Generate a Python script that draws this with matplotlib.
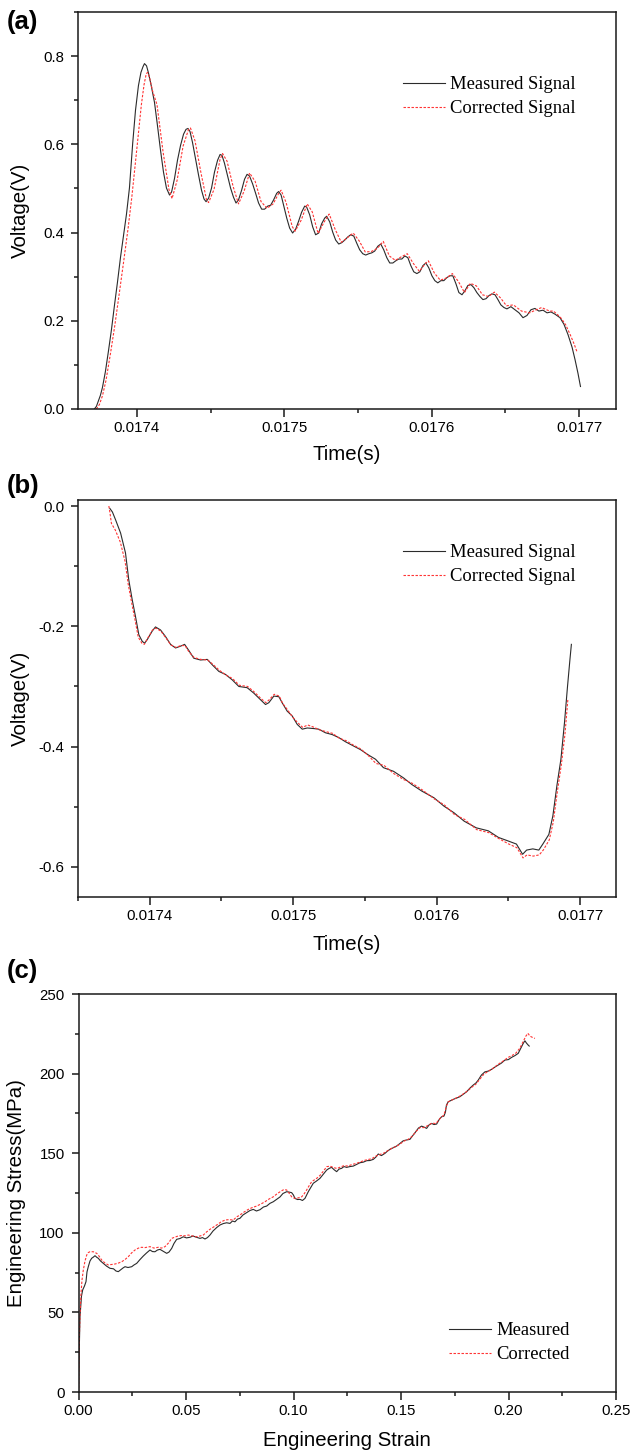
import matplotlib
matplotlib.use("Agg")
import matplotlib.pyplot as plt
from matplotlib.ticker import MultipleLocator, FormatStrFormatter

# ---------------- Panel (a): voltage vs time ----------------
a_meas_t = [0.0173711, 0.0173725, 0.0173738, 0.0173752, 0.0173766, 0.0173786, 0.0173806, 0.0173827,
            0.0173847, 0.0173868, 0.0173888, 0.0173908, 0.0173929, 0.0173949, 0.0173971, 0.0173990,
            0.0174010, 0.0174027, 0.0174041, 0.0174051, 0.0174065, 0.0174078, 0.0174098, 0.0174119,
            0.0174139, 0.0174160, 0.0174180, 0.0174200, 0.0174221, 0.0174235, 0.0174255, 0.0174275,
            0.0174296, 0.0174316, 0.0174333, 0.0174346, 0.0174360, 0.0174377, 0.0174397, 0.0174418,
            0.0174438, 0.0174455, 0.0174469, 0.0174486, 0.0174506, 0.0174526, 0.0174547, 0.0174564,
            0.0174577, 0.0174594, 0.0174615, 0.0174635, 0.0174655, 0.0174672, 0.0174689, 0.0174710,
            0.0174730, 0.0174747, 0.0174764, 0.0174785, 0.0174805, 0.0174825, 0.0174846, 0.0174866,
            0.0174887, 0.0174907, 0.0174927, 0.0174948, 0.0174961, 0.0174978, 0.0174995, 0.0175016,
            0.0175036, 0.0175056, 0.0175077, 0.0175097, 0.0175117, 0.0175138, 0.0175151, 0.0175172,
            0.0175192, 0.0175212, 0.0175233, 0.0175253, 0.0175274, 0.0175287, 0.0175308, 0.0175328,
            0.0175348, 0.0175369, 0.0175389, 0.0175410, 0.0175430, 0.0175450, 0.0175471, 0.0175491,
            0.0175511, 0.0175532, 0.0175552, 0.0175573, 0.0175593, 0.0175613, 0.0175634, 0.0175654,
            0.0175674, 0.0175695, 0.0175715, 0.0175736, 0.0175756, 0.0175776, 0.0175797, 0.0175817,
            0.0175838, 0.0175858, 0.0175878, 0.0175899, 0.0175919, 0.0175940, 0.0175960, 0.0175980,
            0.0176001, 0.0176021, 0.0176041, 0.0176062, 0.0176082, 0.0176103, 0.0176123, 0.0176143,
            0.0176164, 0.0176184, 0.0176205, 0.0176225, 0.0176245, 0.0176266, 0.0176286, 0.0176306,
            0.0176327, 0.0176347, 0.0176368, 0.0176388, 0.0176408, 0.0176429, 0.0176449, 0.0176469,
            0.0176490, 0.0176510, 0.0176537, 0.0176564, 0.0176592, 0.0176619, 0.0176646, 0.0176673,
            0.0176700, 0.0176727, 0.0176755, 0.0176782, 0.0176809, 0.0176836, 0.0176870, 0.0176897,
            0.0176924, 0.0176952, 0.0176972, 0.0176992, 0.0177009]
a_meas_v = [0.000, 0.006, 0.018, 0.031, 0.049, 0.085, 0.130, 0.180,
            0.234, 0.288, 0.343, 0.392, 0.442, 0.501, 0.602, 0.677,
            0.733, 0.763, 0.776, 0.783, 0.778, 0.762, 0.731, 0.695,
            0.643, 0.586, 0.537, 0.501, 0.485, 0.492, 0.523, 0.564,
            0.598, 0.623, 0.634, 0.636, 0.629, 0.604, 0.568, 0.530,
            0.496, 0.476, 0.470, 0.478, 0.501, 0.537, 0.564, 0.577,
            0.575, 0.557, 0.528, 0.501, 0.480, 0.467, 0.474, 0.496,
            0.521, 0.532, 0.528, 0.510, 0.489, 0.467, 0.453, 0.453,
            0.460, 0.462, 0.474, 0.489, 0.493, 0.485, 0.462, 0.433,
            0.410, 0.399, 0.408, 0.426, 0.446, 0.460, 0.458, 0.440,
            0.413, 0.395, 0.399, 0.420, 0.433, 0.437, 0.424, 0.401,
            0.383, 0.374, 0.377, 0.383, 0.390, 0.395, 0.392, 0.376,
            0.361, 0.352, 0.349, 0.352, 0.354, 0.358, 0.369, 0.374,
            0.361, 0.343, 0.331, 0.331, 0.336, 0.340, 0.340, 0.347,
            0.343, 0.325, 0.311, 0.307, 0.311, 0.325, 0.331, 0.320,
            0.302, 0.291, 0.286, 0.291, 0.291, 0.298, 0.302, 0.302,
            0.284, 0.264, 0.259, 0.268, 0.280, 0.282, 0.275, 0.264,
            0.255, 0.248, 0.250, 0.257, 0.261, 0.259, 0.248, 0.236,
            0.230, 0.227, 0.232, 0.225, 0.218, 0.207, 0.212, 0.225,
            0.228, 0.222, 0.224, 0.218, 0.220, 0.215, 0.207, 0.192,
            0.169, 0.140, 0.112, 0.081, 0.051]

a_corr_t = [0.0173724, 0.0173745, 0.0173766, 0.0173790, 0.0173820, 0.0173850, 0.0173880, 0.0173910,
            0.0173940, 0.0173965, 0.0173990, 0.0174010, 0.0174030, 0.0174048, 0.0174063, 0.0174072,
            0.0174085, 0.0174105, 0.0174136, 0.0174177, 0.0174217, 0.0174238, 0.0174272, 0.0174313,
            0.0174350, 0.0174363, 0.0174394, 0.0174435, 0.0174472, 0.0174486, 0.0174523, 0.0174564,
            0.0174581, 0.0174611, 0.0174652, 0.0174689, 0.0174727, 0.0174764, 0.0174802, 0.0174842,
            0.0174883, 0.0174924, 0.0174965, 0.0174978, 0.0175012, 0.0175053, 0.0175073, 0.0175114,
            0.0175155, 0.0175189, 0.0175229, 0.0175270, 0.0175304, 0.0175345, 0.0175386, 0.0175427,
            0.0175467, 0.0175508, 0.0175549, 0.0175590, 0.0175630, 0.0175671, 0.0175712, 0.0175753,
            0.0175793, 0.0175834, 0.0175875, 0.0175916, 0.0175957, 0.0175977, 0.0176018, 0.0176058,
            0.0176099, 0.0176140, 0.0176181, 0.0176222, 0.0176262, 0.0176303, 0.0176344, 0.0176385,
            0.0176425, 0.0176466, 0.0176507, 0.0176554, 0.0176609, 0.0176663, 0.0176717, 0.0176745,
            0.0176772, 0.0176800, 0.0176826, 0.0176853, 0.0176880, 0.0176910, 0.0176940, 0.0176965,
            0.0176985]
a_corr_v = [0.000, 0.010, 0.030, 0.065, 0.125, 0.190, 0.262, 0.335,
            0.410, 0.480, 0.560, 0.625, 0.690, 0.735, 0.760, 0.763,
            0.752, 0.722, 0.690, 0.583, 0.498, 0.477, 0.518, 0.596,
            0.634, 0.637, 0.608, 0.534, 0.474, 0.468, 0.498, 0.566,
            0.579, 0.562, 0.505, 0.465, 0.494, 0.535, 0.516, 0.470,
            0.455, 0.465, 0.491, 0.496, 0.468, 0.414, 0.403, 0.428,
            0.465, 0.447, 0.398, 0.424, 0.442, 0.407, 0.378, 0.388,
            0.399, 0.381, 0.356, 0.357, 0.364, 0.380, 0.347, 0.337,
            0.345, 0.352, 0.330, 0.312, 0.330, 0.336, 0.308, 0.292,
            0.297, 0.307, 0.289, 0.264, 0.285, 0.279, 0.259, 0.255,
            0.265, 0.252, 0.234, 0.236, 0.222, 0.218, 0.226, 0.230,
            0.226, 0.222, 0.222, 0.214, 0.205, 0.190, 0.168, 0.148,
            0.130]

# ---------------- Panel (b): voltage vs time ----------------
b_meas_t = [0.0173722, 0.0173740, 0.0173762, 0.0173797, 0.0173831, 0.0173854, 0.0173878, 0.0173901,
            0.0173924, 0.0173948, 0.0173964, 0.0173983, 0.0174017, 0.0174040, 0.0174075, 0.0174110,
            0.0174145, 0.0174180, 0.0174215, 0.0174243, 0.0174272, 0.0174307, 0.0174354, 0.0174401,
            0.0174436, 0.0174482, 0.0174528, 0.0174575, 0.0174621, 0.0174679, 0.0174725, 0.0174772,
            0.0174807, 0.0174830, 0.0174865, 0.0174900, 0.0174923, 0.0174958, 0.0174993, 0.0175028,
            0.0175063, 0.0175098, 0.0175144, 0.0175178, 0.0175225, 0.0175272, 0.0175318, 0.0175365,
            0.0175413, 0.0175469, 0.0175525, 0.0175574, 0.0175629, 0.0175699, 0.0175769, 0.0175827,
            0.0175897, 0.0175981, 0.0176051, 0.0176121, 0.0176192, 0.0176276, 0.0176360, 0.0176431,
            0.0176500, 0.0176556, 0.0176599, 0.0176627, 0.0176670, 0.0176712, 0.0176740, 0.0176782,
            0.0176810, 0.0176838, 0.0176866, 0.0176891, 0.0176912, 0.0176929, 0.0176939]
b_meas_v = [-0.004, -0.010, -0.023, -0.045, -0.078, -0.123, -0.156, -0.184,
            -0.214, -0.225, -0.228, -0.222, -0.208, -0.201, -0.206, -0.217,
            -0.230, -0.236, -0.233, -0.230, -0.240, -0.253, -0.256, -0.255,
            -0.264, -0.275, -0.280, -0.289, -0.300, -0.302, -0.311, -0.322,
            -0.330, -0.327, -0.316, -0.317, -0.327, -0.341, -0.349, -0.363,
            -0.371, -0.369, -0.370, -0.371, -0.377, -0.380, -0.385, -0.392,
            -0.398, -0.405, -0.414, -0.421, -0.435, -0.441, -0.452, -0.463,
            -0.474, -0.485, -0.499, -0.510, -0.524, -0.535, -0.540, -0.551,
            -0.557, -0.562, -0.579, -0.572, -0.570, -0.572, -0.562, -0.546,
            -0.515, -0.465, -0.421, -0.360, -0.300, -0.255, -0.230]

b_corr_t = [0.0173715, 0.0173722, 0.0173733, 0.0173760, 0.0173795, 0.0173828, 0.0173850, 0.0173875,
            0.0173898, 0.0173920, 0.0173945, 0.0173962, 0.0173985, 0.0174020, 0.0174042, 0.0174078,
            0.0174112, 0.0174148, 0.0174182, 0.0174218, 0.0174246, 0.0174275, 0.0174310, 0.0174357,
            0.0174404, 0.0174439, 0.0174485, 0.0174531, 0.0174578, 0.0174624, 0.0174682, 0.0174728,
            0.0174775, 0.0174810, 0.0174833, 0.0174868, 0.0174903, 0.0174926, 0.0174961, 0.0174996,
            0.0175031, 0.0175066, 0.0175101, 0.0175147, 0.0175181, 0.0175228, 0.0175275, 0.0175321,
            0.0175368, 0.0175416, 0.0175472, 0.0175528, 0.0175577, 0.0175632, 0.0175702, 0.0175772,
            0.0175830, 0.0175900, 0.0175984, 0.0176054, 0.0176124, 0.0176195, 0.0176279, 0.0176363,
            0.0176434, 0.0176503, 0.0176559, 0.0176602, 0.0176630, 0.0176673, 0.0176715, 0.0176743,
            0.0176785, 0.0176813, 0.0176841, 0.0176869, 0.0176894, 0.0176915]
b_corr_v = [0.000, -0.010, -0.029, -0.040, -0.060, -0.092, -0.130, -0.162,
            -0.190, -0.218, -0.228, -0.230, -0.220, -0.206, -0.203, -0.208,
            -0.219, -0.231, -0.235, -0.232, -0.232, -0.243, -0.252, -0.255,
            -0.256, -0.263, -0.273, -0.281, -0.287, -0.298, -0.300, -0.309,
            -0.320, -0.327, -0.322, -0.313, -0.316, -0.328, -0.339, -0.351,
            -0.360, -0.368, -0.364, -0.368, -0.372, -0.375, -0.378, -0.386,
            -0.390, -0.397, -0.404, -0.416, -0.428, -0.431, -0.445, -0.455,
            -0.461, -0.472, -0.487, -0.497, -0.513, -0.521, -0.538, -0.543,
            -0.553, -0.562, -0.568, -0.585, -0.580, -0.582, -0.580, -0.572,
            -0.555, -0.525, -0.475, -0.430, -0.380, -0.320]

# ---------------- Panel (c): stress vs strain ----------------
c_meas_e = [0.0000, 0.0002, 0.00065, 0.00135, 0.0019, 0.00274, 0.00344, 0.0039, 0.00451, 0.0053,
            0.00609, 0.00693, 0.00763, 0.00856, 0.00916, 0.01019, 0.01149, 0.01298, 0.01460, 0.01623,
            0.01740, 0.01847, 0.01972, 0.02065, 0.02158, 0.02298, 0.0247, 0.02577, 0.02702, 0.02856,
            0.03009, 0.03158, 0.03321, 0.03437, 0.03553, 0.0367, 0.03786, 0.03926, 0.04098, 0.04205,
            0.0433, 0.04437, 0.04563, 0.04716, 0.0487, 0.05019, 0.05181, 0.05321, 0.05414, 0.0553,
            0.05647, 0.05763, 0.05879, 0.05995, 0.06112, 0.06251, 0.06423, 0.06577, 0.0673, 0.06888,
            0.07042, 0.07158, 0.07274, 0.07391, 0.07507, 0.07647, 0.07819, 0.07972, 0.08126, 0.08274,
            0.08437, 0.086, 0.08749, 0.08902, 0.09056, 0.09205, 0.09367, 0.09507, 0.09679, 0.09786,
            0.09912, 0.09995, 0.10065, 0.10181, 0.10298, 0.10414, 0.1053, 0.10684, 0.10786, 0.10916,
            0.11065, 0.11228, 0.11391, 0.1154, 0.11647, 0.11772, 0.11879, 0.12005, 0.12112, 0.12237,
            0.12344, 0.1247, 0.12623, 0.12777, 0.12926, 0.13088, 0.13251, 0.134, 0.13553, 0.13707,
            0.13833, 0.1394, 0.14088, 0.14251, 0.14367, 0.14484, 0.14647, 0.14795, 0.14949, 0.15102,
            0.15251, 0.15414, 0.1553, 0.15647, 0.1581, 0.15958, 0.16065, 0.16191, 0.16298, 0.16423,
            0.1653, 0.16656, 0.16786, 0.16888, 0.16995, 0.17065, 0.17112, 0.17195, 0.17321, 0.17428,
            0.17577, 0.1774, 0.17902, 0.18051, 0.18205, 0.18358, 0.18484, 0.18591, 0.1874, 0.18902,
            0.19065, 0.19214, 0.19367, 0.19521, 0.1967, 0.19833, 0.19995, 0.20144, 0.20298, 0.20451,
            0.2053, 0.20609, 0.20693, 0.20763, 0.20833, 0.20916, 0.20963]
c_meas_s = [0.0, 20.1, 47.3, 60.3, 64.1, 66.6, 69.3, 75.4, 78.7, 82.3,
            84.0, 84.8, 85.6, 84.5, 84.0, 82.3, 80.8, 79.1, 77.7, 77.4,
            76.0, 75.6, 76.9, 77.9, 78.7, 78.2, 78.7, 79.8, 80.8, 83.2,
            85.4, 87.3, 89.2, 88.2, 88.1, 89.2, 89.6, 88.5, 87.1, 87.9,
            90.2, 93.3, 95.9, 96.4, 97.5, 96.8, 97.2, 98.0, 97.5, 97.0,
            96.5, 97.0, 96.1, 97.0, 98.6, 101.1, 103.3, 104.9, 105.8, 106.3,
            105.9, 107.4, 106.9, 108.6, 109.1, 111.2, 112.7, 114.0, 114.7, 113.7,
            114.5, 116.2, 116.8, 118.5, 119.5, 120.9, 122.5, 124.7, 125.8, 125.6,
            125.2, 123.7, 121.6, 120.9, 121.0, 120.3, 121.6, 125.8, 128.1, 131.1,
            132.5, 134.2, 136.9, 139.4, 140.4, 141.1, 139.7, 138.4, 140.0, 140.5,
            141.6, 141.1, 141.6, 141.9, 142.9, 144.0, 144.4, 145.3, 145.4, 146.1,
            147.6, 149.5, 148.5, 149.9, 151.3, 152.4, 153.5, 154.5, 156.1, 157.8,
            158.3, 158.7, 160.8, 162.8, 165.8, 167.0, 166.4, 165.6, 167.7, 168.7,
            168.0, 168.3, 171.4, 172.9, 173.3, 175.8, 180.2, 182.3, 183.1, 183.8,
            184.6, 185.5, 187.1, 188.6, 190.9, 192.8, 194.1, 195.9, 199.1, 201.1,
            201.6, 202.7, 204.1, 205.4, 206.6, 208.5, 208.8, 210.2, 211.3, 212.7,
            214.8, 216.8, 219.2, 220.6, 219.2, 217.9, 217.3]

c_corr_e = [0.0000, 0.0002, 0.00065, 0.00112, 0.00158, 0.00219, 0.00298, 0.00377, 0.00451, 0.0053,
            0.00684, 0.00842, 0.00949, 0.01074, 0.01228, 0.01381, 0.0153, 0.01693, 0.01856, 0.02005,
            0.02158, 0.02312, 0.0246, 0.02623, 0.02786, 0.02935, 0.03088, 0.03321, 0.03507, 0.03707,
            0.03856, 0.04019, 0.04181, 0.0433, 0.04484, 0.04637, 0.04809, 0.04972, 0.05102, 0.05298,
            0.05493, 0.05647, 0.058, 0.05949, 0.06112, 0.06274, 0.06423, 0.06623, 0.06809, 0.06995,
            0.07195, 0.07344, 0.07507, 0.07693, 0.07893, 0.08088, 0.08284, 0.08484, 0.0867, 0.08856,
            0.09056, 0.09251, 0.09447, 0.09553, 0.09679, 0.09786, 0.09912, 0.10019, 0.10144, 0.10251,
            0.10377, 0.10484, 0.10609, 0.10716, 0.10842, 0.10949, 0.11074, 0.11228, 0.11391, 0.1154,
            0.11693, 0.11856, 0.12019, 0.12181, 0.12344, 0.1253, 0.12716, 0.12902, 0.13088, 0.13274,
            0.1346, 0.13647, 0.13833, 0.14019, 0.14205, 0.14391, 0.14577, 0.14763, 0.14949, 0.15135,
            0.15321, 0.15507, 0.15693, 0.1588, 0.16065, 0.16251, 0.16437, 0.16623, 0.1681, 0.16995,
            0.17088, 0.17181, 0.17367, 0.17553, 0.1774, 0.17926, 0.18112, 0.18298, 0.18484, 0.1867,
            0.18856, 0.19042, 0.19228, 0.19414, 0.196, 0.19786, 0.19972, 0.20158, 0.20344, 0.2053,
            0.2067, 0.2081, 0.20902, 0.20995, 0.21088, 0.21228]
c_corr_s = [0.0, 26.4, 48.4, 62.0, 70.3, 76.6, 82.3, 86.0, 87.6, 88.1,
            88.1, 87.1, 85.4, 82.9, 81.0, 79.8, 80.1, 80.4, 81.0, 81.8,
            83.2, 85.0, 87.3, 89.2, 90.4, 90.9, 90.7, 91.3, 90.4, 90.9,
            90.4, 91.3, 93.6, 96.5, 97.3, 98.0, 98.3, 98.1, 98.6, 98.0,
            97.5, 98.0, 98.6, 100.5, 102.2, 103.6, 104.9, 106.8, 108.0, 108.3,
            108.0, 109.9, 111.2, 113.0, 114.7, 115.9, 116.8, 118.1, 119.5, 121.2,
            122.6, 124.7, 126.4, 127.2, 126.9, 125.0, 122.6, 121.8, 121.6, 122.1,
            122.6, 124.3, 126.9, 129.4, 132.1, 133.1, 134.2, 136.0, 138.8, 141.5,
            141.9, 141.0, 140.4, 141.3, 142.2, 141.9, 142.9, 143.5, 144.4, 145.4,
            146.0, 146.6, 148.2, 149.2, 150.1, 151.7, 153.2, 154.2, 155.7, 157.6,
            158.6, 160.5, 163.6, 166.1, 166.1, 167.4, 168.9, 168.6, 171.8, 174.0,
            178.4, 182.1, 183.4, 184.6, 185.9, 187.5, 189.3, 191.5, 193.4, 196.6,
            199.7, 201.3, 202.8, 204.7, 206.6, 208.2, 210.1, 211.3, 212.9, 216.0,
            219.8, 223.6, 225.3, 223.6, 222.9, 222.1]

# ---------------- Text ----------------
panel_labels = ["(a)", "(b)", "(c)"]
xlabels = ["Time(s)", "Time(s)", "Engineering Strain"]
ylabels = ["Voltage(V)", "Voltage(V)", "Engineering Stress(MPa)"]
legend_ab = ["Measured Signal", "Corrected Signal"]
legend_c = ["Measured", "Corrected"]

SANS = "Liberation Sans"
SERIF = "Liberation Serif"
plt.rcParams["font.family"] = SANS

W, H = 630, 1453
fig = plt.figure(figsize=(W / 100, H / 100), dpi=100)

def fx(px):
    return px / W

def fy(py):
    return 1 - py / H

# axes boxes in pixels: left, top, right, bottom
boxes = [(78, 12, 616, 409), (78, 500, 616, 897), (78.6, 994, 616, 1392)]
axes = []
for (l, t, r, b) in boxes:
    ax = fig.add_axes([fx(l), fy(b), (r - l) / W, (b - t) / H])
    axes.append(ax)

meas_kw = dict(color="#2b2b2b", lw=0.8, solid_joinstyle="round")
corr_kw = dict(color="#ff3333", lw=0.8, ls=(0, (2.2, 1.4)))

axA, axB, axC = axes
axA.plot(a_meas_t, a_meas_v, label=legend_ab[0], **meas_kw)
axA.plot(a_corr_t, a_corr_v, label=legend_ab[1], **corr_kw)
axB.plot(b_meas_t, b_meas_v, label=legend_ab[0], **meas_kw)
axB.plot(b_corr_t, b_corr_v, label=legend_ab[1], **corr_kw)
axC.plot(c_meas_e, c_meas_s, label=legend_c[0], **meas_kw)
axC.plot(c_corr_e, c_corr_s, label=legend_c[1], **corr_kw)

axA.set_xlim(0.01736, 0.017725)
axA.set_ylim(0.0, 0.9)
axB.set_xlim(0.01735, 0.017725)
axB.set_ylim(-0.65, 0.01)
axC.set_xlim(0.0, 0.25)
axC.set_ylim(0, 250)

for ax in (axA, axB):
    ax.xaxis.set_major_locator(MultipleLocator(0.0001))
    ax.xaxis.set_minor_locator(MultipleLocator(0.00005))
    ax.xaxis.set_major_formatter(FormatStrFormatter("%.4f"))
    ax.yaxis.set_major_locator(MultipleLocator(0.2))
    ax.yaxis.set_minor_locator(MultipleLocator(0.1))
    ax.yaxis.set_major_formatter(FormatStrFormatter("%.1f"))
axC.xaxis.set_major_locator(MultipleLocator(0.05))
axC.xaxis.set_minor_locator(MultipleLocator(0.025))
axC.xaxis.set_major_formatter(FormatStrFormatter("%.2f"))
axC.yaxis.set_major_locator(MultipleLocator(50))
axC.yaxis.set_minor_locator(MultipleLocator(25))

label_offsets = [45, 48, 49]
ylabel_x = [20, 20, 17]
for i, ax in enumerate(axes):
    for sp in ax.spines.values():
        sp.set_linewidth(1.1)
        sp.set_color("#1a1a1a")
    ax.tick_params(which="both", direction="out", top=False, right=False,
                   width=1.1, color="#1a1a1a")
    ax.tick_params(which="major", length=5.4)
    ax.tick_params(which="minor", length=3.0)
    ax.tick_params(axis="x", which="major", pad=3.0, labelsize=10.8)
    ax.tick_params(axis="y", which="major", pad=4.6, labelsize=10.8)
    l, t, r, b = boxes[i]
    ax.set_xlabel(xlabels[i], fontsize=14.7, family=SANS)
    ax.set_ylabel(ylabels[i], fontsize=14.7, family=SANS)
    ax.xaxis.label.set_va("center")
    ax.yaxis.label.set_va("center")
    ax.xaxis.set_label_coords(0.5, -label_offsets[i] / (b - t))
    ax.yaxis.set_label_coords((ylabel_x[i] - l) / (r - l), 0.5)

# Panel letters
letter_y = [22, 486, 971]
for lab, y in zip(panel_labels, letter_y):
    fig.text(fx(7), fy(y), lab, fontsize=18.5, fontweight="bold", family=SANS,
             ha="left", va="center")

# Legends
leg_kw = dict(frameon=False, borderpad=0, borderaxespad=0, handlelength=2.25,
              handletextpad=0.3, labelspacing=0.38,
              prop={"family": SERIF, "size": 13.4}, loc="upper left")
axA.legend(bbox_to_anchor=((402.7 - 78) / 538, (409 - 76) / 397), **leg_kw)
axB.legend(bbox_to_anchor=((402.7 - 78) / 538, (897 - 544) / 397), **leg_kw)
axC.legend(bbox_to_anchor=((449 - 78.6) / 537.4, (1392 - 1322) / 398), **leg_kw)

fig.savefig("out.png", dpi=100)
